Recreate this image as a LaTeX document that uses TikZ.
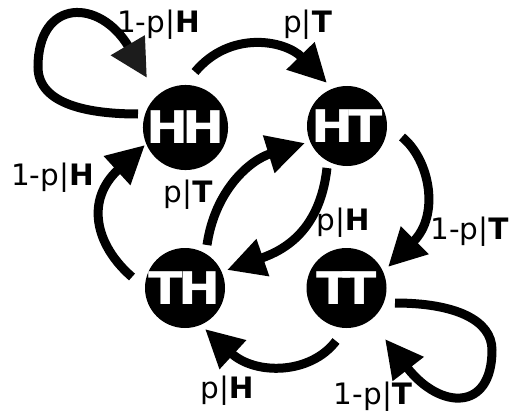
\documentclass[tikz,border=0pt]{standalone}
\usepackage{fontspec}
\setmainfont{DejaVu Sans}
\usetikzlibrary{arrows.meta,calc}
\definecolor{tipgray}{HTML}{1C1C1C}
\newcommand{\wideletters}[1]{\scalebox{1.12}[1]{#1}}
\begin{document}
\begin{tikzpicture}[x=1pt,y=-1pt,
  state/.style={circle,fill=black,minimum size=80pt,inner sep=0pt,text=white,
    font=\fontsize{45}{45}\selectfont\bfseries},
  edge/.style={line width=9pt,-{Triangle[length=38pt,width=37pt]}},
  lbl/.style={anchor=base,inner sep=0pt,font=\fontsize{29.5}{30}\selectfont}]
\useasboundingbox (0,0) rectangle (517,412);
\node[state] (HH) at (185.5,127.5) {\wideletters{H\kern-5pt H}};
\node[state] (HT) at (347,126) {\wideletters{H\kern-5pt T}};
\node[state] (TH) at (185,288) {\wideletters{T\kern-4pt H}};
\node[state] (TT) at (346.5,288) {\wideletters{T\kern-7pt T}};
% self loop HH
\draw[line width=9pt,-{Triangle[length=38pt,width=37pt,fill=tipgray,color=tipgray]}]
  ($(HH)+(-47.5,-13.5)$) .. controls (90,114) and (38,105) .. (38,67)
  .. controls (38,-2) and (100,-2) .. ($(HH)+(-38.5,-49.5)$);
% HH -> HT
\draw[edge] ($(HH)+(9.5,-55.5)$) .. controls (230,30) and (285,40) .. ($(HT)+(-20,-43)$);
% HT -> TT
\draw[edge] ($(HT)+(55,11)$) .. controls (430,160) and (440,215) .. ($(TT)+(41.5,-21)$);
% self loop TT
\draw[edge] ($(TT)+(48.5,15)$) .. controls (455,303) and (492,320) .. (492,350)
  .. controls (492,412) and (440,410) .. ($(TT)+(38.5,51)$);
% TT -> TH
\draw[edge] ($(TT)+(-10.5,53)$) .. controls (310,375) and (255,375) .. ($(TH)+(20,41)$);
% TH -> HH
\draw[edge] ($(TH)+(-53,-11)$) .. controls (95,245) and (85,200) .. ($(HH)+(-40.5,17.5)$);
% TH -> HT
\draw[edge] ($(TH)+(22,-43)$) .. controls (215,190) and (250,160) .. ($(HT)+(-42,17)$);
% HT -> TH
\draw[edge] ($(HT)+(-20,42)$) .. controls (320,230) and (285,250) .. ($(TH)+(42,-18)$);
% labels
\node[lbl] (l1) at (158.5,33) {1-p|\textbf{H}};
\node[lbl] (l2) at (307.5,33) {p|\textbf{T}};
\node[lbl] (l3) at (469.5,239) {1-p|\textbf{T}};
\node[lbl] (l4) at (373,404) {1-p|\textbf{T}};
\node[lbl] (l5) at (227,398) {p|\textbf{H}};
\node[lbl] (l6) at (52.5,185) {1-p|\textbf{H}};
\node[lbl] (l7) at (188,202) {p|\textbf{T}};
\node[lbl] (l8) at (343,230) {p|\textbf{H}};
\end{tikzpicture}
\end{document}
